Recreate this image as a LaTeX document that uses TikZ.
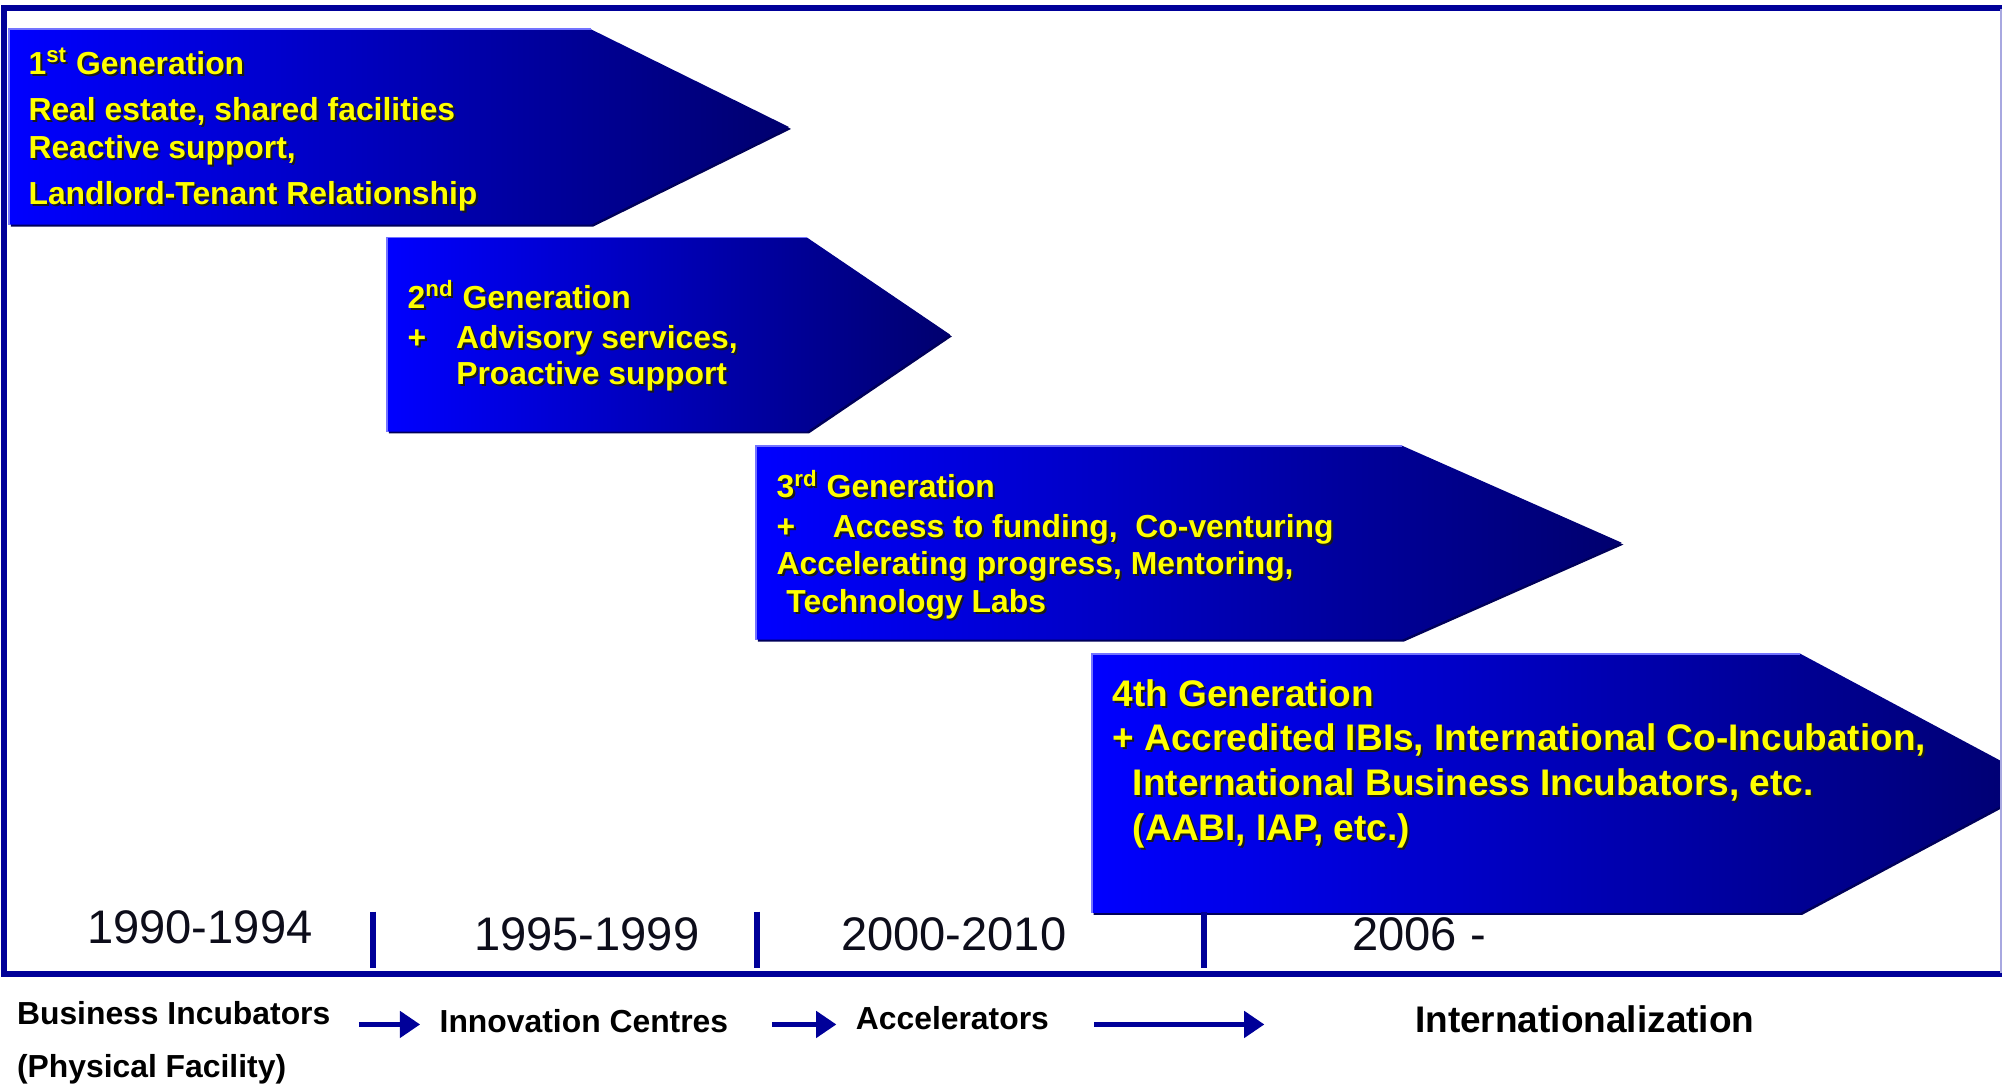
\documentclass[tikz,border=0pt]{standalone}
\usepackage{fontspec}
\setmainfont{Liberation Sans}
\usepackage{xcolor}
\usepackage{tikz}
\usetikzlibrary{arrows.meta}
\definecolor{GenBright}{HTML}{0000FF}
\definecolor{GenDeep}{HTML}{00006E}
\definecolor{GenEdge}{HTML}{7373FF}
\definecolor{GenShade}{HTML}{00005A}
\definecolor{GenText}{HTML}{FFFF00}
\definecolor{GenTextShade}{HTML}{1A1A1A}
\definecolor{FrameNavy}{HTML}{000099}
\definecolor{FrameLight}{HTML}{A8A8E0}
\definecolor{YearInk}{HTML}{0D0D1A}
\newcommand\gshade[1]{\makebox[0pt][l]{\hspace{0.9pt}\raisebox{-0.9pt}{\color{GenTextShade}#1}}#1}

\begin{document}
\begin{tikzpicture}[x=0.02cm,y=-0.02cm,
  gentext/.style={anchor=base west, inner sep=0pt, text=GenText, font=\fontsize{14.2pt}{17pt}\selectfont\bfseries},
  bigtext/.style={gentext, font=\fontsize{16.5pt}{20pt}\selectfont\bfseries},
  yeartext/.style={anchor=base, inner sep=0pt, text=YearInk, font=\fontsize{21pt}{25pt}\selectfont},
  phasetext/.style={anchor=base west, inner sep=0pt, text=black, text height=10.6pt, text depth=3.6pt, font=\fontsize{14.2pt}{17pt}\selectfont\bfseries},
  flow/.style={FrameNavy, line width=2.6pt, -{Triangle[length=9pt,width=11.5pt]}}]
        \useasboundingbox (0,0) rectangle (1568,850);
        % generation arrows
        \foreach \l/\t/\b/\c/\p in {7/23/176/463/618,303/186/338/632/744,592/349/501/1098/1270,855/512/715/1410/1600} {
          \fill[GenShade, shift={(1.5,1.5)}] (\l,\t) -- (\c,\t) -- (\p,{(\t+\b)/2}) -- (\c,\b) -- (\l,\b) -- cycle;
          \shade[left color=GenBright, right color=GenDeep] (\l,\t) -- (\c,\t) -- (\p,{(\t+\b)/2}) -- (\c,\b) -- (\l,\b) -- cycle;
          \draw[GenEdge, line width=0.8pt] (\l,\b) -- (\l,\t) -- (\c,\t);
        }
        \foreach \x/\y/\t [count=\i] in {22/58/{1\textsuperscript{st} Generation},22/94/{Real estate, shared facilities},22/124/{Reactive support,},22/160/{Landlord-Tenant Relationship}} {
          \node[gentext] (first\i) at (\x,\y) {\gshade{\t}};
        }
        \foreach \x/\y/\t [count=\i] in {319/241.5/{2\textsuperscript{nd} Generation},319/272.6/{\makebox[21.6pt][l]{+}Advisory services,},357/301.5/{Proactive support}} {
          \node[gentext] (second\i) at (\x,\y) {\gshade{\t}};
        }
        \foreach \x/\y/\t [count=\i] in {608/390/{3\textsuperscript{rd} Generation},608/421/{\makebox[25pt][l]{+}Access to funding,\ \ Co-venturing},608/450/{Accelerating progress, Mentoring,},615.6/480/{Technology Labs}} {
          \node[gentext] (third\i) at (\x,\y) {\gshade{\t}};
        }
        \foreach \x/\y/\t [count=\i] in {871/553.5/{4th Generation},871/588/{+ Accredited IBIs, International Co-Incubation,},887/623/{International Business Incubators, etc.},887/658/{(AABI, IAP, etc.)}} {
          \node[bigtext] (fourth\i) at (\x,\y) {\gshade{\t}};
        }
        % time line
        \foreach \x in {292,593,943} {
          \draw[FrameNavy, line width=2.6pt] (\x,714) -- (\x,758);
        }
        \foreach \x/\y/\yr [count=\i] in {156.5/738.6/1990-1994,459.5/744.6/1995-1999,747/744.6/2000-2010,1111.5/744.6/{2006 -}} {
          \node[yeartext] (year\i) at (\x,\y) {\yr};
        }
        \draw[FrameNavy, line width=2.7pt, line join=miter] (1568,6) -- (3.5,6) -- (3.5,763) -- (1568,763);
        \draw[FrameLight, line width=0.7pt] (1567,7) -- (1567,762);
        % phases
        \node[phasetext] (bi) at (13,802) {Business Incubators};
        \node[phasetext] (bipf) at (13,844) {(Physical Facility)};
        \node[phasetext] (ic) at (344,808.5) {Innovation Centres};
        \node[phasetext] (ac) at (670,806) {Accelerators};
        \node[phasetext, font=\fontsize{16.5pt}{20pt}\selectfont\bfseries] (intl) at (1108,809) {Internationalization};
        \draw[flow, shorten <=12.5pt, shorten >=8.5pt] (bi.east |- ic.west) -- (ic.west);
        \draw[flow, shorten <=19.3pt, shorten >=8.5pt] (ic.east) -- (ic.east -| ac.west);
        \draw[flow, shorten <=20pt, shorten >=67pt] (ac.east |- ic.east) -- (ic.east -| intl.west);
      \end{tikzpicture}
\end{document}
